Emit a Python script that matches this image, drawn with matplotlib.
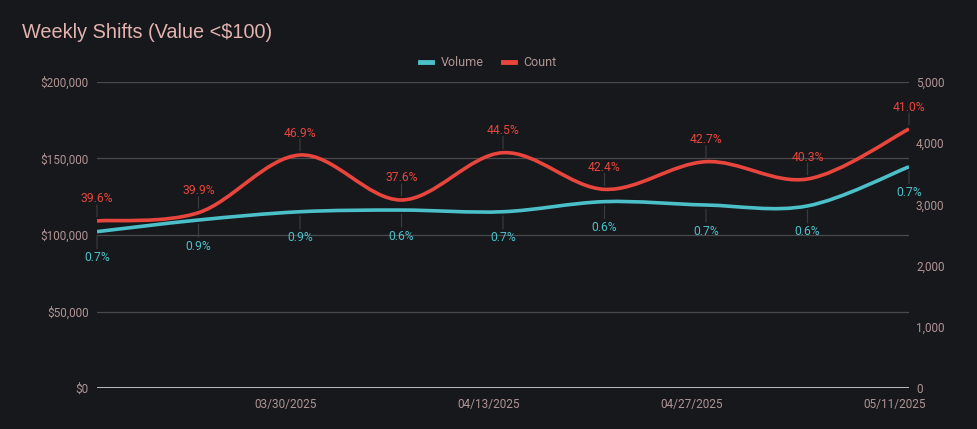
import numpy as np
import matplotlib
matplotlib.use("Agg")
import matplotlib.pyplot as plt
import matplotlib.dates as mdates
from matplotlib.path import Path
from matplotlib.patches import PathPatch
from matplotlib.lines import Line2D
from matplotlib.ticker import FuncFormatter, MultipleLocator

# data
dates = ['2025-03-17', '2025-03-24', '2025-03-31', '2025-04-07', '2025-04-14',
         '2025-04-21', '2025-04-28', '2025-05-05', '2025-05-12']
volume = [102200, 109800, 115200, 116300, 115200, 121800, 119600, 119000, 144600]
count = [2730, 2865, 3807, 3072, 3845, 3246, 3698, 3415, 4232]
volume_pct = ['0.7%', '0.9%', '0.9%', '0.6%', '0.7%', '0.6%', '0.7%', '0.6%', '0.7%']
count_pct = ['39.6%', '39.9%', '46.9%', '37.6%', '44.5%', '42.4%', '42.7%', '40.3%', '41.0%']
tick_dates = ['2025-03-30', '2025-04-13', '2025-04-27', '2025-05-11']
tick_labels = ['03/30/2025', '04/13/2025', '04/27/2025', '05/11/2025']

BG = '#17181c'
TEAL = '#4bc0c8'
RED = '#e8453c'
TXT = '#b09494'
GRID = '#4a4a4d'
LEAD = '#3a3b3f'

plt.rcParams['font.family'] = ['Roboto', 'DejaVu Sans']


def smooth_path(xs, ys, t=1/6):
    n = len(xs)
    verts = [(xs[0], ys[0])]
    codes = [Path.MOVETO]
    for i in range(n - 1):
        a = i - 1 if i > 0 else i
        b = i + 2 if i + 2 < n else i + 1
        c1 = (xs[i] + (xs[i + 1] - xs[a]) * t, ys[i] + (ys[i + 1] - ys[a]) * t)
        c2 = (xs[i + 1] - (xs[b] - xs[i]) * t, ys[i + 1] - (ys[b] - ys[i]) * t)
        verts += [c1, c2, (xs[i + 1], ys[i + 1])]
        codes += [Path.CURVE4] * 3
    return Path(verts, codes)


x = mdates.date2num(np.array(dates, dtype='datetime64[D]'))
xt = mdates.date2num(np.array(tick_dates, dtype='datetime64[D]'))

fig = plt.figure(figsize=(9.77, 4.29), dpi=100, facecolor=BG)
ax = fig.add_axes([97 / 977, 41 / 429, 812 / 977, 306 / 429])
ax.set_facecolor(BG)
ax2 = ax.twinx()
ax2.patch.set_visible(False)

ax.set_xlim(x[0], x[-1])
ax.set_ylim(0, 200000)
ax2.set_ylim(0, 5000)

for a in (ax, ax2):
    for s in a.spines.values():
        s.set_visible(False)

ax.yaxis.set_major_locator(MultipleLocator(50000))
ax.yaxis.set_major_formatter(FuncFormatter(lambda v, p: '${:,.0f}'.format(v)))
ax2.yaxis.set_major_locator(MultipleLocator(1000))
ax2.yaxis.set_major_formatter(FuncFormatter(lambda v, p: '{:,.0f}'.format(v)))
ax.set_xticks(xt)
ax.set_xticklabels(tick_labels)
ax.tick_params(axis='y', length=0, pad=6, labelsize=8.5, labelcolor=TXT)
ax.tick_params(axis='x', length=0, pad=7, labelsize=8.5, labelcolor=TXT)
ax2.tick_params(axis='y', length=0, pad=5, labelsize=8.5, labelcolor=TXT)

for v in [50000, 100000, 150000, 200000]:
    ax.axhline(v, color=GRID, lw=0.9, zorder=1)
ax.axhline(0, color='#d8d8d8', lw=1.2, zorder=1)

ax.add_patch(PathPatch(smooth_path(x, volume), fill=False, ec=TEAL, lw=2.6,
                       zorder=3, capstyle='butt'))
ax2.add_patch(PathPatch(smooth_path(x, count), fill=False, ec=RED, lw=2.6,
                        zorder=4, capstyle='butt'))

for xi, v, lab in zip(x, volume, volume_pct):
    ax.annotate('', xy=(xi, v), xytext=(0, -17), textcoords='offset pixels',
                arrowprops=dict(arrowstyle='-', color=LEAD, lw=0.9, shrinkA=0, shrinkB=3),
                annotation_clip=False)
    ax.annotate(lab, xy=(xi, v), xytext=(0, -26), textcoords='offset pixels',
                ha='center', va='center', color=TEAL, fontsize=8.7,
                annotation_clip=False)

for xi, c, lab in zip(x, count, count_pct):
    ax2.annotate('', xy=(xi, c), xytext=(0, 16), textcoords='offset pixels',
                 arrowprops=dict(arrowstyle='-', color=LEAD, lw=0.9, shrinkA=0, shrinkB=3),
                 annotation_clip=False)
    ax2.annotate(lab, xy=(xi, c), xytext=(0, 22), textcoords='offset pixels',
                 ha='center', va='center', color=RED, fontsize=8.7,
                 annotation_clip=False)

fig.text(22 / 977, 1 - 32 / 429, 'Weekly Shifts (Value <$100)', color='#e3b3b0',
         fontsize=14.3, family=['Liberation Sans', 'DejaVu Sans'], va='center', ha='left')

handles = [Line2D([], [], color=TEAL, lw=3.5), Line2D([], [], color=RED, lw=3.5)]
leg = fig.legend(handles, ['Volume', 'Count'], loc='center', ncol=2,
                 bbox_to_anchor=(0.5, 1 - 63 / 429), frameon=False, fontsize=9,
                 handlelength=0.95, handletextpad=0.7, columnspacing=1.5)
for t in leg.get_texts():
    t.set_color(TXT)

fig.savefig('out.png', dpi=100, facecolor=BG)
